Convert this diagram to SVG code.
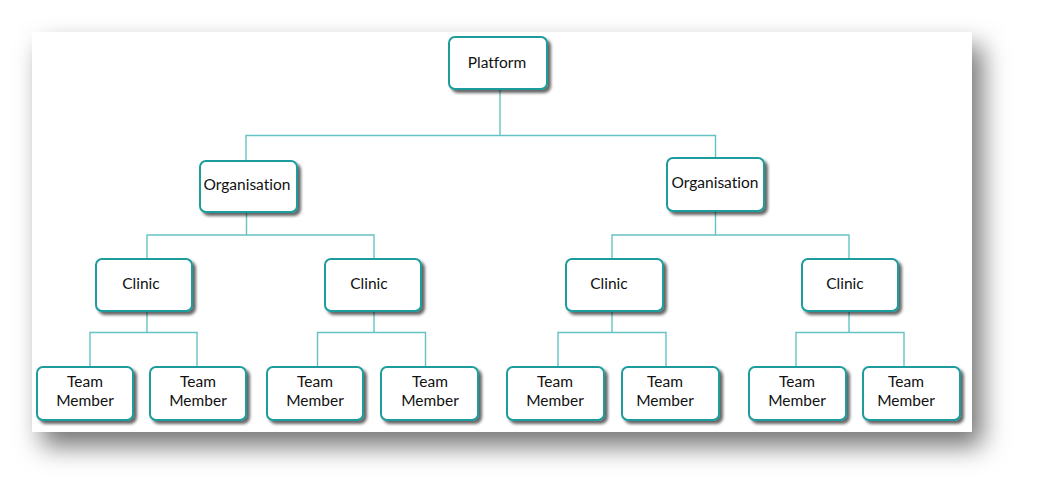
<svg xmlns="http://www.w3.org/2000/svg" width="1037" height="497" viewBox="0 0 1037 497">
<defs>
<filter id="panelShadow" x="-10%" y="-20%" width="125%" height="150%">
<feDropShadow dx="10" dy="14" stdDeviation="13" flood-color="#000" flood-opacity="0.55"/>
</filter>
<filter id="boxShadow" x="-10%" y="-10%" width="130%" height="140%">
<feDropShadow dx="3" dy="3" stdDeviation="1.5" flood-color="#000" flood-opacity="0.6"/>
</filter>
<style>
.box{fill:#fff;stroke:#1a9c9c;stroke-width:2;filter:url(#boxShadow)}
.lbl{font-family:Lato,"Open Sans","Liberation Sans",sans-serif;font-size:15.5px;fill:#111;text-anchor:middle;font-variant-ligatures:none;font-feature-settings:"liga" 0,"dlig" 0}
.conn{fill:none;stroke:#66c2c2;stroke-width:1.4}
</style>
</defs>
<rect width="1037" height="497" fill="#fff"/>
<rect x="32" y="32" width="940" height="400" fill="#fff" filter="url(#panelShadow)"/>
<g id="connectors">
<path class="conn" d="M500 89V135.5M246 160V135.5H715.5V158"/>
<path class="conn" d="M246.5 212V235M147 259V235H374V259"/>
<path class="conn" d="M715.5 211V235M612 259V235H849V259"/>
<path class="conn" d="M147 311V332.5M90 367V332.5H197V367"/>
<path class="conn" d="M374 311V332.5M317.5 367V332.5H425.5V367"/>
<path class="conn" d="M612 311V332.5M558 367V332.5H666V367"/>
<path class="conn" d="M849 311V332.5M796 367V332.5H904V367"/>
</g>
<g id="platform"><rect class="box" x="449" y="37" width="98" height="52" rx="6"/><text class="lbl" x="497" y="68">Platform</text></g>
<g id="org1"><rect class="box" x="200" y="161" width="97" height="51" rx="6"/><text class="lbl" x="247" y="190">Organisation</text></g>
<g id="org2"><rect class="box" x="667" y="158" width="97" height="53" rx="6"/><text class="lbl" x="715" y="188">Organisation</text></g>
<g id="clinic1"><rect class="box" x="96" y="259" width="96" height="52" rx="6"/><text class="lbl" x="141" y="289">Clinic</text></g>
<g id="clinic2"><rect class="box" x="325" y="259" width="96" height="52" rx="6"/><text class="lbl" x="369" y="289">Clinic</text></g>
<g id="clinic3"><rect class="box" x="566" y="259" width="97" height="52" rx="6"/><text class="lbl" x="609" y="289">Clinic</text></g>
<g id="clinic4"><rect class="box" x="802" y="259" width="96" height="52" rx="6"/><text class="lbl" x="845" y="289">Clinic</text></g>
<g id="tm1"><rect class="box" x="37" y="367" width="96" height="53" rx="6"/><text class="lbl" x="85" y="387">Team</text><text class="lbl" x="85" y="406">Member</text></g>
<g id="tm2"><rect class="box" x="150" y="367" width="96" height="53" rx="6"/><text class="lbl" x="198" y="387">Team</text><text class="lbl" x="198" y="406">Member</text></g>
<g id="tm3"><rect class="box" x="267" y="367" width="96" height="53" rx="6"/><text class="lbl" x="315" y="387">Team</text><text class="lbl" x="315" y="406">Member</text></g>
<g id="tm4"><rect class="box" x="381" y="367" width="97" height="53" rx="6"/><text class="lbl" x="430" y="387">Team</text><text class="lbl" x="430" y="406">Member</text></g>
<g id="tm5"><rect class="box" x="507" y="367" width="97" height="53" rx="6"/><text class="lbl" x="555" y="387">Team</text><text class="lbl" x="555" y="406">Member</text></g>
<g id="tm6"><rect class="box" x="622" y="367" width="97" height="53" rx="6"/><text class="lbl" x="665" y="387">Team</text><text class="lbl" x="665" y="406">Member</text></g>
<g id="tm7"><rect class="box" x="749" y="367" width="97" height="53" rx="6"/><text class="lbl" x="797" y="387">Team</text><text class="lbl" x="797" y="406">Member</text></g>
<g id="tm8"><rect class="box" x="863" y="367" width="97" height="53" rx="6"/><text class="lbl" x="906" y="387">Team</text><text class="lbl" x="906" y="406">Member</text></g>
</svg>
